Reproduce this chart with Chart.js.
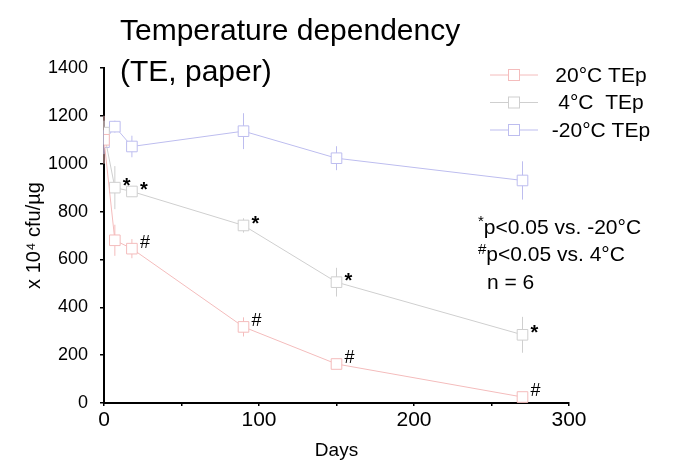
<!DOCTYPE html>
<html>
<head>
<meta charset="utf-8">
<script src="https://cdn.jsdelivr.net/npm/chart.js@4.4.1/dist/chart.umd.min.js"></script>
<style>
  body { margin: 0; background: #fff; }
  #wrap { width: 673px; height: 463px; position: relative; }
</style>
</head>
<body>
<div id="wrap"><canvas id="myChart"></canvas></div>
<script>
var FONT = '"Liberation Sans", Arial, sans-serif';

// storage days
var days = [0, 7, 18, 90, 150, 270];

var seriesNames = ['20°C TEp', '4°C  TEp', '-20°C TEp'];
var seriesColors = ['#f4bcbc', '#cfcfcf', '#bdbdef'];

// x 10^4 cfu/µg, mean and error per day
var warmMeans = [1100, 680, 645, 318, 163, 25];
var warmErrs  = [100, 65, 40, 40, 15, 8];
var warmMarks = ['', '', '#', '#', '#', '#'];

var coolMeans = [1130, 900, 884, 742, 505, 285];
var coolErrs  = [50, 90, 20, 30, 60, 75];
var coolMarks = ['', '*', '*', '*', '*', '*'];

var frozenMeans = [1090, 1155, 1072, 1136, 1023, 930];
var frozenErrs  = [50, 25, 45, 75, 50, 80];
var frozenMarks = ['', '', '', '', '', ''];

var yTicks = [0, 200, 400, 600, 800, 1000, 1200, 1400];
var xLabels = [0, 100, 200, 300];

var titleLines = ['Temperature dependency', '(TE, paper)'];
var notes = [['*', 'p<0.05 vs. -20°C'], ['#', 'p<0.05 vs. 4°C'], ['', 'n = 6']];

function pts(vals) {
    return days.map(function(d, i){ return {x: d, y: vals[i]}; });
}

function makeSet(i, vals, errs, marks) {
    return {
        label: seriesNames[i],
        data: pts(vals),
        errors: errs,
        marks: marks,
        borderColor: seriesColors[i],
        borderWidth: 1,
        pointStyle: 'rect',
        pointRadius: 7.5,
        pointHoverRadius: 7.5,
        pointBorderWidth: 1,
        pointBorderColor: seriesColors[i],
        pointBackgroundColor: '#fff',
        tension: 0,
        fill: false
    };
}

var overlay = {
    id: 'overlay',
    beforeDatasetsDraw: function(chart) {
        var ctx = chart.ctx, ys = chart.scales.y;
        ctx.save();
        chart.data.datasets.forEach(function(ds, i){
            var meta = chart.getDatasetMeta(i);
            ctx.strokeStyle = ds.borderColor;
            ctx.lineWidth = 1;
            meta.data.forEach(function(p, j){
                var v = ds.data[j].y, e = ds.errors[j];
                ctx.beginPath();
                ctx.moveTo(p.x, ys.getPixelForValue(v + e));
                ctx.lineTo(p.x, ys.getPixelForValue(v - e));
                ctx.stroke();
            });
        });
        ctx.restore();
    },
    afterDatasetsDraw: function(chart) {
        var ctx = chart.ctx;
        ctx.save();
        ctx.fillStyle = '#000';
        ctx.textAlign = 'left';
        ctx.textBaseline = 'middle';
        chart.data.datasets.forEach(function(ds, i){
            var meta = chart.getDatasetMeta(i);
            meta.data.forEach(function(p, j){
                var m = ds.marks[j];
                if (!m) return;
                if (m === '*') {
                    ctx.font = 'bold 20px ' + FONT;
                    ctx.fillText(m, p.x + 8, p.y - 1);
                } else {
                    ctx.font = '18px ' + FONT;
                    ctx.fillText(m, p.x + 8, p.y - 6);
                }
            });
        });
        ctx.restore();
    },
    afterDraw: function(chart) {
        var ctx = chart.ctx;
        ctx.save();
        ctx.fillStyle = '#000';
        ctx.textBaseline = 'alphabetic';
        ctx.textAlign = 'left';
        ctx.font = '30px ' + FONT;
        ctx.fillText(titleLines[0], 120, 40);
        ctx.fillText(titleLines[1], 120, 81);

        // legend
        chart.data.datasets.forEach(function(ds, i){
            var y = 75 + i * 27.5;
            ctx.strokeStyle = ds.borderColor;
            ctx.lineWidth = 1;
            ctx.beginPath();
            ctx.moveTo(490, y); ctx.lineTo(538, y);
            ctx.stroke();
            ctx.fillStyle = '#fff';
            ctx.fillRect(508, y - 6, 12, 12);
            ctx.strokeRect(508.5, y - 5.5, 11, 11);
            ctx.fillStyle = '#000';
            ctx.font = '21px ' + FONT;
            ctx.textAlign = 'center';
            ctx.textBaseline = 'middle';
            ctx.fillText(ds.label, 601, y + 1);
        });

        // notes
        ctx.textAlign = 'left';
        ctx.textBaseline = 'middle';
        notes.forEach(function(n, i){
            var y = 228 + i * 27.5;
            var x = 478;
            if (n[0]) {
                ctx.font = '15px ' + FONT;
                ctx.fillText(n[0], x, y - 6);
                x += ctx.measureText(n[0]).width;
            } else {
                x += 9;
            }
            ctx.font = '21px ' + FONT;
            ctx.fillText(n[1], x, y);
        });
        ctx.restore();
    }
};

var ctx = document.getElementById('myChart').getContext('2d');
var myChart = new Chart(ctx, {
    type: 'line',
    plugins: [overlay],
    data: {
        datasets: [
            makeSet(0, warmMeans, warmErrs, warmMarks),
            makeSet(1, coolMeans, coolErrs, coolMarks),
            makeSet(2, frozenMeans, frozenErrs, frozenMarks)
        ]
    },
    options: {
        responsive: true,
        maintainAspectRatio: false,
        animation: false,
        layout: { padding: { top: 68, right: 104, left: 0, bottom: 0 } },
        plugins: {
            legend: { display: false },
            title: { display: false },
            tooltip: { enabled: false }
        },
        scales: {
            x: {
                type: 'linear',
                min: 0, max: 300,
                afterFit: function(s){ s.height = 60; },
                afterBuildTicks: function(s){
                    s.ticks = [0, 50, 100, 150, 200, 250, 300].map(function(v){ return {value: v}; });
                },
                ticks: {
                    color: '#000',
                    font: { family: FONT, size: 21 },
                    padding: 2,
                    maxRotation: 0,
                    callback: function(v){ return xLabels.indexOf(v) >= 0 ? String(v) : ''; }
                },
                grid: { drawOnChartArea: false, drawTicks: true, tickLength: 3, color: '#000', lineWidth: 1.5 },
                border: { display: true, color: '#000', width: 2 },
                title: { display: true, text: 'Days', color: '#000', font: { family: FONT, size: 19 }, padding: { top: 0, bottom: 1 } }
            },
            y: {
                min: 0, max: 1400,
                afterFit: function(s){ s.width = 104; },
                afterBuildTicks: function(s){
                    s.ticks = yTicks.map(function(v){ return {value: v}; });
                },
                ticks: {
                    color: '#000',
                    font: { family: FONT, size: 18 },
                    padding: 12,
                    callback: function(v){ return String(v); }
                },
                grid: { drawOnChartArea: false, drawTicks: true, tickLength: 4, color: '#000', lineWidth: 1.5 },
                border: { display: true, color: '#000', width: 2 },
                title: { display: true, text: 'x 10⁴ cfu/µg', color: '#000', font: { family: FONT, size: 20 }, padding: { top: 22, bottom: 0 } }
            }
        }
    }
});
</script>
</body>
</html>
